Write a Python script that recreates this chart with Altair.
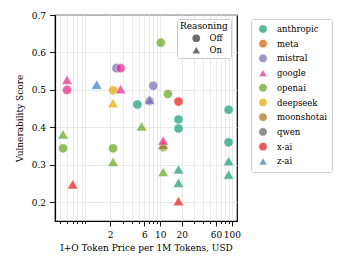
import altair as alt
import pandas as pd

companies = ["google", "google", "z-ai", "mistral", "google", "deepseek", "google", "deepseek",
             "anthropic", "mistral", "mistral", "mistral", "openai", "openai", "x-ai", "anthropic",
             "anthropic", "openai", "openai", "openai", "openai", "openai", "x-ai", "openai",
             "openai", "moonshotai", "google", "anthropic", "anthropic", "x-ai", "anthropic",
             "anthropic", "anthropic", "anthropic"]
prices = [0.5, 0.5, 1.3, 2.45, 2.8, 2.2, 2.8, 2.2,
          4.8, 7.1, 7.1, 8.0, 10.2, 12.8, 18, 18,
          18, 5.5, 0.44, 0.44, 2.2, 2.2, 0.6, 11,
          11, 11, 11, 18, 18, 18, 90,
          90, 90, 90]
scores = [0.527, 0.500, 0.514, 0.558, 0.558, 0.499, 0.502, 0.465,
          0.461, 0.470, 0.474, 0.511, 0.626, 0.489, 0.469, 0.421,
          0.397, 0.403, 0.381, 0.344, 0.344, 0.308, 0.248, 0.281,
          0.347, 0.353, 0.365, 0.288, 0.252, 0.203, 0.447,
          0.360, 0.310, 0.274]
reasoning = ["On", "Off", "On", "Off", "Off", "Off", "On", "On",
             "Off", "Off", "On", "Off", "Off", "Off", "Off", "Off",
             "Off", "On", "On", "Off", "Off", "On", "On", "On",
             "Off", "On", "On", "On", "On", "On", "Off",
             "Off", "On", "On"]

company_order = ["anthropic", "meta", "mistral", "google", "openai", "deepseek",
                 "moonshotai", "qwen", "x-ai", "z-ai"]
company_colors = ["#1b9e77", "#d95f02", "#7570b3", "#e7298a", "#66a61e", "#e6ab02",
                  "#a6761d", "#666666", "#e41a1c", "#377eb8"]
major_ticks = [2, 6, 10, 20, 60, 100]
minor_ticks = [0.4, 0.5, 0.6, 0.7, 0.8, 0.9, 3, 4, 5, 7, 8, 9, 30, 40, 50, 70, 80, 90]
y_ticks = [0.2, 0.3, 0.4, 0.5, 0.6, 0.7]

df = pd.DataFrame({"company": companies, "price": prices, "score": scores,
                   "reasoning": reasoning})

FONT = "DejaVu Serif"
major_str = "[" + ",".join(str(v) for v in major_ticks) + "]"
is_major = f"indexof({major_str}, datum.value) >= 0"

chart = alt.Chart(df).mark_point(
    filled=True, fillOpacity=0.72, stroke="white", strokeWidth=0.9, strokeOpacity=0.55
).encode(
    x=alt.X("price:Q",
            scale=alt.Scale(type="log", domain=[0.34, 118], nice=False),
            axis=alt.Axis(values=sorted(major_ticks + minor_ticks),
                          labelExpr=f"{is_major} ? format(datum.value, '~g') : ''",
                          tickSize={"condition": {"test": is_major, "value": 5}, "value": 2.5},
                          labelOverlap=False, labelFlush=False, labelPadding=4,
                          title="I+O Token Price per 1M Tokens, USD", titlePadding=4)),
    y=alt.Y("score:Q",
            scale=alt.Scale(domain=[0.15, 0.7], nice=False, zero=False),
            axis=alt.Axis(values=y_ticks, format=".1f", tickSize=5.5, labelPadding=4,
                          title="Vulnerability Score", titlePadding=7)),
    color=alt.Color("company:N",
                    scale=alt.Scale(domain=company_order, range=company_colors),
                    legend=alt.Legend(title=None, orient="none", legendX=196, legendY=4,
                                      symbolType={"expr": "datum.value == 'google' || datum.value == 'z-ai' ? 'triangle-up' : 'circle'"},
                                      symbolSize=75, symbolOpacity=0.72,
                                      symbolStrokeColor="white", symbolStrokeWidth=0.8,
                                      strokeColor="#cccccc", fillColor="white",
                                      padding=5, cornerRadius=2, rowPadding=2.7,
                                      labelOffset=9, symbolOffset=2)),
    shape=alt.Shape("reasoning:N",
                    scale=alt.Scale(domain=["Off", "On"], range=["circle", "triangle-up"]),
                    legend=alt.Legend(title="Reasoning", orient="none", legendX=122, legendY=4,
                                      symbolFillColor="#6f6f6f", symbolStrokeColor="#6f6f6f",
                                      symbolStrokeWidth=0, symbolSize=60, symbolOpacity=1,
                                      strokeColor="#cccccc", fillColor="white",
                                      padding=3, cornerRadius=2, rowPadding=3,
                                      labelOffset=9, symbolOffset=12,
                                      titleFontWeight="normal", titlePadding=3)),
    size=alt.condition("datum.reasoning == 'On'", alt.value(115), alt.value(85)),
).properties(
    width=182, height=206,
    autosize=alt.AutoSizeParams(type="none"),
    padding={"left": 47, "top": 7, "right": 100, "bottom": 40},
).configure(
    font=FONT,
).configure_view(
    stroke="black", strokeWidth=1.2,
).configure_axis(
    labelFont=FONT, titleFont=FONT, labelFontSize=9, titleFontSize=9,
    labelColor="black", titleColor="black", titleFontWeight="normal",
    domainColor="black", domainWidth=1.2, tickColor="black", tickWidth=0.9,
    gridColor="#e4e4e4", gridWidth=0.8,
).configure_legend(
    labelFont=FONT, titleFont=FONT, labelFontSize=8.5, titleFontSize=9,
    labelColor="black", titleColor="black",
)

chart.save("out.html", embed_options={"renderer": "svg", "actions": False})
